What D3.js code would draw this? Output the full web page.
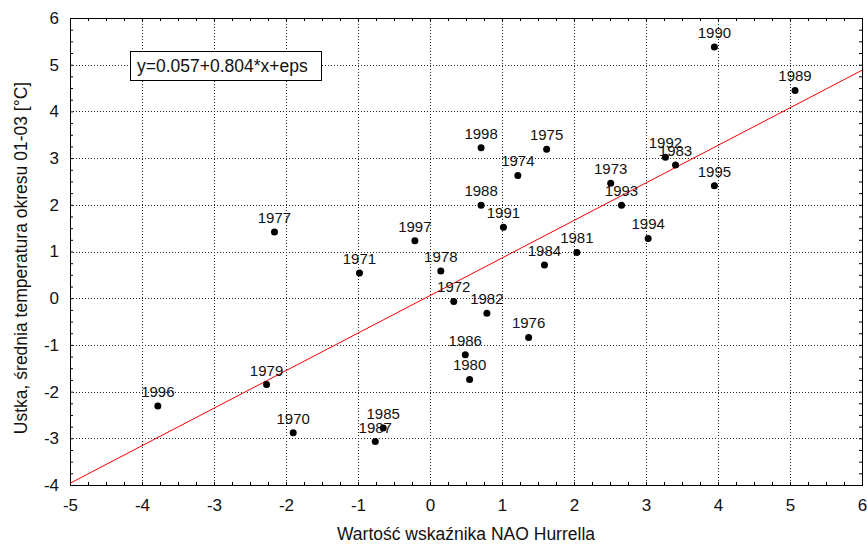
<!DOCTYPE html>
<html>
<head>
<meta charset="utf-8">
<script src="https://cdn.jsdelivr.net/npm/d3@7"></script>
<style>
  body { margin: 0; background: #fff; }
  text { font-family: Arial, "Liberation Sans", sans-serif; fill: #111; }
</style>
</head>
<body>
<div id="chart"></div>
<script>
////////////////////////////////////////////////////////////////////////
// Data

// year of each point
let years = [1970, 1971, 1972, 1973, 1974, 1975, 1976, 1977, 1978, 1979,
  1980, 1981, 1982, 1983, 1984, 1985, 1986, 1987, 1988, 1989,
  1990, 1991, 1992, 1993, 1994, 1995, 1996, 1997, 1998];

// NAO index (x)
let naoValues = [-1.90, -0.98, 0.33, 2.51, 1.22, 1.62, 1.37, -2.16, 0.15, -2.27,
  0.55, 2.04, 0.79, 3.41, 1.59, -0.65, 0.49, -0.76, 0.71, 5.07,
  3.95, 1.02, 3.27, 2.66, 3.03, 3.95, -3.78, -0.21, 0.71];

// mean temperature Jan-Mar in Ustka (y)
let tempValues = [-2.88, 0.54, -0.07, 2.46, 2.63, 3.19, -0.84, 1.42, 0.58, -1.85,
  -1.74, 0.98, -0.32, 2.85, 0.71, -2.78, -1.21, -3.07, 1.99, 4.45,
  5.38, 1.52, 3.02, 1.99, 1.28, 2.41, -2.31, 1.23, 3.22];

// regression line y = a + b*x
let intercept = 0.057;
let slope = 0.804;

let xTicks = [-5, -4, -3, -2, -1, 0, 1, 2, 3, 4, 5, 6];
let yTicks = [-4, -3, -2, -1, 0, 1, 2, 3, 4, 5, 6];

////////////////////////////////////////////////////////////////////////
// Layout

let width = 867;
let height = 546;
let pLeft = 70, pRight = 862, pTop = 18, pBottom = 485;

let svg = d3.select("#chart")
  .append("svg")
  .attr("width", width)
  .attr("height", height);

let xScale = d3.scaleLinear().domain([-5, 6]).range([pLeft, pRight]);
let yScale = d3.scaleLinear().domain([-4, 6]).range([pBottom, pTop]);

// minor tick positions every 0.25
let xMinor = d3.range(-5, 6.001, 0.25);
let yMinor = d3.range(-4, 6.001, 0.25);

// dotted grid
let grid = svg.append("g").attr("class", "grid");

grid.selectAll("line.vx")
  .data(xTicks.slice(1, -1))
  .enter()
  .append("line")
  .attr("class", "vx")
  .attr("x1", d => Math.round(xScale(d)) + 0.5)
  .attr("x2", d => Math.round(xScale(d)) + 0.5)
  .attr("y1", pTop)
  .attr("y2", pBottom)
  .attr("stroke", "#222")
  .attr("stroke-dasharray", "1,2");

grid.selectAll("line.hy")
  .data(yTicks.slice(1, -1))
  .enter()
  .append("line")
  .attr("class", "hy")
  .attr("x1", pLeft)
  .attr("x2", pRight)
  .attr("y1", d => Math.round(yScale(d)) + 0.5)
  .attr("y2", d => Math.round(yScale(d)) + 0.5)
  .attr("stroke", "#222")
  .attr("stroke-dasharray", "1,2");

// inward minor ticks on all four sides
function tickAxes(axisFn, scale, vals, transform) {
  let g = svg.append("g")
    .attr("transform", transform)
    .call(axisFn(scale).tickValues(vals).tickSize(-3).tickFormat(""));
  g.select(".domain").remove();
  g.selectAll("line").attr("stroke", "#000");
}
tickAxes(d3.axisBottom, xScale, xMinor, `translate(0,${pBottom})`);
tickAxes(d3.axisTop, xScale, xMinor, `translate(0,${pTop})`);
tickAxes(d3.axisLeft, yScale, yMinor, `translate(${pLeft},0)`);
tickAxes(d3.axisRight, yScale, yMinor, `translate(${pRight},0)`);

// tick labels (plain hyphen for negatives, like the original)
let xAxis = svg.append("g")
  .attr("transform", `translate(0,${pBottom})`)
  .call(d3.axisBottom(xScale).tickValues(xTicks).tickSize(0).tickPadding(14)
    .tickFormat(d => String(d)));
xAxis.select(".domain").remove();
xAxis.selectAll("text")
  .style("font-size", "17px")
  .style("font-family", "Arial, 'Liberation Sans', sans-serif")
  .attr("fill", "#111");

let yAxis = svg.append("g")
  .attr("transform", `translate(${pLeft},0)`)
  .call(d3.axisLeft(yScale).tickValues(yTicks).tickSize(0).tickPadding(11)
    .tickFormat(d => String(d)));
yAxis.select(".domain").remove();
yAxis.selectAll("text")
  .style("font-size", "17px")
  .style("font-family", "Arial, 'Liberation Sans', sans-serif")
  .attr("fill", "#111");

// plot frame
svg.append("rect")
  .attr("x", pLeft + 0.5)
  .attr("y", pTop + 0.5)
  .attr("width", pRight - pLeft)
  .attr("height", pBottom - pTop)
  .attr("fill", "none")
  .attr("stroke", "#000");

// regression line
svg.append("line")
  .attr("x1", xScale(-5))
  .attr("y1", yScale(intercept + slope * -5))
  .attr("x2", xScale(6))
  .attr("y2", yScale(intercept + slope * 6))
  .attr("stroke", "#ff0000")
  .attr("stroke-width", 1);

// points
let points = years.map((yr, i) => ({ year: yr, x: naoValues[i], y: tempValues[i] }));

svg.append("g")
  .attr("class", "points")
  .selectAll("circle")
  .data(points)
  .enter()
  .append("circle")
  .attr("cx", d => xScale(d.x))
  .attr("cy", d => yScale(d.y))
  .attr("r", 3.5)
  .attr("fill", "#000");

svg.append("g")
  .attr("class", "labels")
  .selectAll("text")
  .data(points)
  .enter()
  .append("text")
  .attr("x", d => xScale(d.x))
  .attr("y", d => yScale(d.y) - 9)
  .attr("text-anchor", "middle")
  .style("font-size", "15px")
  .text(d => d.year);

// equation box
svg.append("rect")
  .attr("x", 130.5)
  .attr("y", 51.5)
  .attr("width", 191)
  .attr("height", 29)
  .attr("fill", "#fff")
  .attr("stroke", "#000");

svg.append("text")
  .attr("x", 137)
  .attr("y", 72)
  .style("font-size", "17.5px")
  .text(`y=${intercept}+${slope}*x+eps`);

// axis titles
svg.append("text")
  .attr("x", (pLeft + pRight) / 2)
  .attr("y", 540)
  .attr("text-anchor", "middle")
  .style("font-size", "17.5px")
  .text("Wartość wskaźnika NAO Hurrella");

svg.append("text")
  .attr("transform", "translate(27,258) rotate(-90)")
  .attr("text-anchor", "middle")
  .style("font-size", "17.5px")
  .text("Ustka, średnia temperatura okresu 01-03 [°C]");
</script>
</body>
</html>
